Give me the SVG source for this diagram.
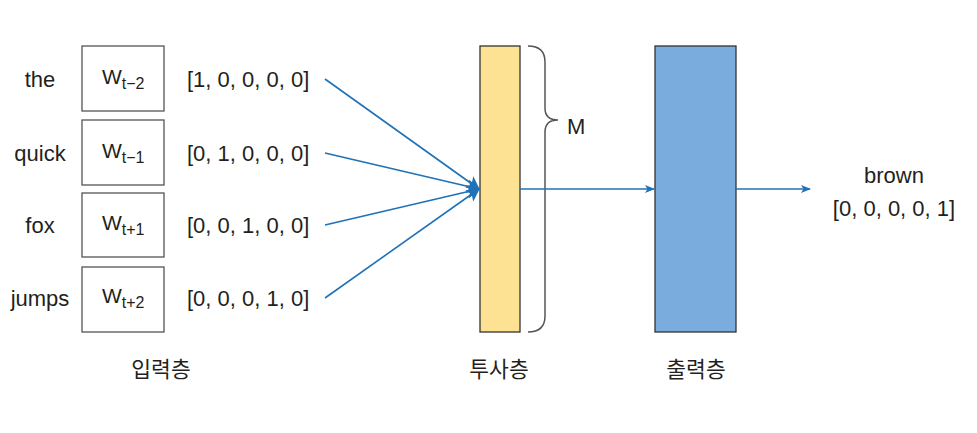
<svg xmlns="http://www.w3.org/2000/svg" width="977" height="433" viewBox="0 0 977 433">
<style>
text{font-family:"Liberation Sans","Noto Sans CJK KR",sans-serif;fill:#231f20;font-size:22px}
.w{font-size:21px}
.sub{font-size:16px}
.kr{font-size:21.5px}
.box{fill:#fff;stroke:#555;stroke-width:1.3}
.conn{stroke:#1f72b8;stroke-width:1.6;fill:none}
.mid{text-anchor:middle}
</style>
<defs>
<marker id="ah" markerWidth="10" markerHeight="8" refX="9" refY="4" orient="auto" markerUnits="userSpaceOnUse"><path d="M0,0 L10,4 L0,8 L2.5,4 Z" fill="#1f72b8"/></marker>
<marker id="ahb" markerWidth="14" markerHeight="14" refX="12" refY="7" orient="auto" markerUnits="userSpaceOnUse"><path d="M0,0 L13,7 L0,14 L3,7 Z" fill="#1f72b8"/></marker>
</defs>
<rect width="977" height="433" fill="#fff"/>
<g id="in1"><text x="40" y="87" class="mid">the</text><rect class="box" x="82" y="46" width="82" height="65"/><text class="w" x="102" y="84">W<tspan class="sub" dy="5">t−2</tspan></text><text x="187" y="87">[1, 0, 0, 0, 0]</text></g>
<g id="in2"><text x="40" y="161" class="mid">quick</text><rect class="box" x="82" y="120" width="82" height="65"/><text class="w" x="102" y="158">W<tspan class="sub" dy="5">t−1</tspan></text><text x="187" y="161">[0, 1, 0, 0, 0]</text></g>
<g id="in3"><text x="40" y="233" class="mid">fox</text><rect class="box" x="82" y="193" width="82" height="64"/><text class="w" x="102" y="230">W<tspan class="sub" dy="5">t+1</tspan></text><text x="187" y="233">[0, 0, 1, 0, 0]</text></g>
<g id="in4"><text x="40" y="306" class="mid">jumps</text><rect class="box" x="82" y="267" width="82" height="65"/><text class="w" x="102" y="303">W<tspan class="sub" dy="5">t+2</tspan></text><text x="187" y="306">[0, 0, 0, 1, 0]</text></g>
<g id="proj"><rect x="480" y="46" width="40" height="286" fill="#fde293" stroke="#333" stroke-width="1.3"/><path d="M528,46 Q545,46 545,62 L545,108 Q545,120 558,120 Q545,120 545,132 L545,316 Q545,332 528,332" fill="none" stroke="#555" stroke-width="1.5"/><text x="567" y="134">M</text></g>
<g id="out"><rect x="655" y="46" width="81" height="286" fill="#7aadde" stroke="#333" stroke-width="1.3"/></g>
<g id="target"><text x="894" y="183" class="mid">brown</text><text x="894" y="216" class="mid">[0, 0, 0, 0, 1]</text></g>
<g id="labels"><text x="161" y="377" class="mid kr">입력층</text><text x="499" y="377" class="mid kr">투사층</text><text x="696" y="377" class="mid kr">출력층</text></g>
<g id="connectors">
<line class="conn" x1="325" y1="79" x2="479" y2="189" marker-end="url(#ahb)"/>
<line class="conn" x1="325" y1="153" x2="479" y2="189" marker-end="url(#ahb)"/>
<line class="conn" x1="325" y1="225" x2="479" y2="189" marker-end="url(#ahb)"/>
<line class="conn" x1="325" y1="298" x2="479" y2="189" marker-end="url(#ahb)"/>
<line class="conn" x1="520" y1="189" x2="654" y2="189" marker-end="url(#ah)"/>
<line class="conn" x1="736" y1="189" x2="810" y2="189" marker-end="url(#ah)"/>
</g>
</svg>
